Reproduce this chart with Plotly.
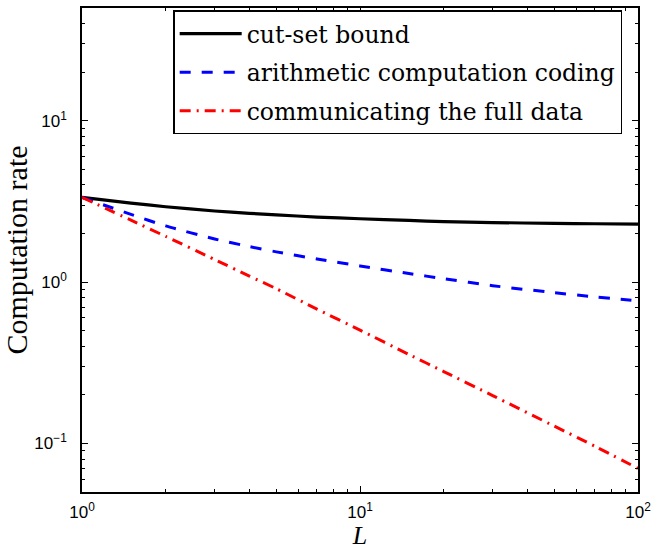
import plotly.graph_objects as go

L = [1, 1.5, 2, 3, 4, 5, 7, 10, 15, 20, 30, 50, 70, 100]
cut_set = [3.35, 3.09, 2.93, 2.76, 2.67, 2.61, 2.53, 2.47, 2.41, 2.37, 2.34, 2.31, 2.30, 2.29]
arith = [3.35, 2.63, 2.23, 1.85, 1.66, 1.54, 1.39, 1.26, 1.13, 1.05, 0.95, 0.86, 0.81, 0.765]
full_data = [3.35, 2.42, 1.92, 1.38, 1.09, 0.91, 0.68, 0.504, 0.356, 0.279, 0.198, 0.128, 0.096, 0.070]

names = ["cut-set bound", "arithmetic computation coding", "communicating the full data"]
x_ticks = [1, 10, 100]
x_ticktext = ["10<sup>0</sup>", "10<sup>1</sup>", "10<sup>2</sup>"]
y_ticks = [0.1, 1, 10]
y_ticktext = ["10<sup>\u22121</sup>", "10<sup>0</sup>", "10<sup>1</sup>"]

SERIF = "Liberation Serif"
LEGEND_SERIF = "DejaVu Serif"
SANS = "Liberation Sans"

fig = go.Figure()
fig.add_trace(go.Scatter(x=L, y=cut_set, mode="lines", name=names[0], legendgroup="g1",
                         line=dict(color="black", width=3.2, shape="spline", smoothing=0.6)))
fig.add_trace(go.Scatter(x=L, y=arith, mode="lines", name=names[1], legendgroup="g2",
                         line=dict(color="#0000ff", width=3, dash="11px,11px", shape="spline", smoothing=0.6)))
fig.add_trace(go.Scatter(x=L, y=full_data, mode="lines", name=names[2], legendgroup="g3",
                         line=dict(color="#ff0000", width=3, dash="11px,6px,2px,6px", shape="spline", smoothing=0.6)))

minor_x = [m * d for d in (1, 10) for m in range(2, 10)]
minor_y = [m * d for d in (0.01, 0.1, 1, 10) for m in range(2, 10)]
minor_y = [v for v in minor_y if 0.05 <= v <= 50]

axis_common = dict(
    showline=True, linecolor="black", linewidth=1.5, mirror="ticks",
    ticks="inside", ticklen=6, tickwidth=1, tickcolor="black",
    showgrid=False, zeroline=False, automargin=False,
    tickfont=dict(family=SANS, size=17, color="black"),
    ticklabeloverflow="allow",
)

fig.update_xaxes(type="log", range=[0, 2], tickvals=x_ticks, ticktext=x_ticktext,
                 minor=dict(tickvals=minor_x, ticks="inside", ticklen=3, tickcolor="black", showgrid=False),
                 title=dict(text="<i>L</i>", font=dict(family=SERIF, size=26, color="black"), standoff=6),
                 ticklabelstandoff=4,
                 **axis_common)
fig.update_yaxes(type="log", range=[-1.30103, 1.69897], tickvals=y_ticks, ticktext=y_ticktext,
                 minor=dict(tickvals=minor_y, ticks="inside", ticklen=3, tickcolor="black", showgrid=False),
                 title=dict(text="Computation rate", font=dict(family=SERIF, size=30, color="black"), standoff=4),
                 ticklabelstandoff=10,
                 **axis_common)

fig.update_layout(
    width=651, height=550,
    margin=dict(l=82, r=13, t=8, b=58),
    paper_bgcolor="white", plot_bgcolor="white",
    font=dict(family=SERIF, color="black"),
    showlegend=True,
    legend=dict(x=0.164, y=0.995, xanchor="left", yanchor="top",
                bgcolor="white", bordercolor="black", borderwidth=1.5,
                font=dict(family=LEGEND_SERIF, size=23.5, color="black"),
                traceorder="grouped", tracegroupgap=5,
                itemwidth=62),
)

fig.write_html("out.html")
